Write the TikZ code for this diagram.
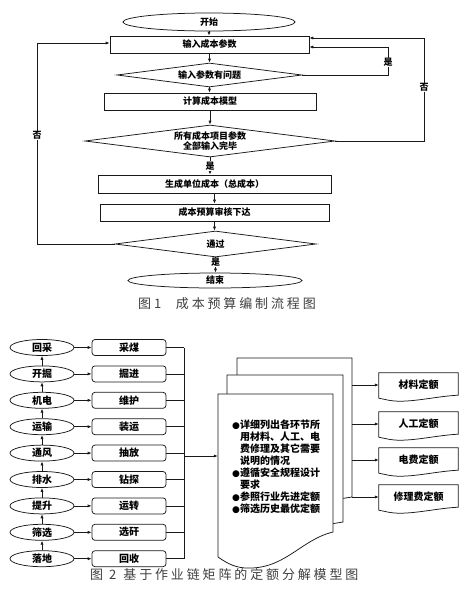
\documentclass[tikz,border=0pt]{standalone}
\usepackage{fontspec}
\setmainfont{Noto Sans CJK SC}
\newfontfamily\dejavu{DejaVu Sans}
\usetikzlibrary{shapes.geometric,arrows.meta}
\newcommand\bul{\makebox[8pt][l]{\dejavu\fontsize{9}{9}\selectfont ●}}
\newcommand\ind{\hspace*{8pt}}
\tikzset{
  ln/.style={line width=0.75pt, draw=black!90},
  arr/.style={ln, -{Latex[length=4pt,width=3.2pt]}},
  fa/.style={font=\bfseries\fontsize{9}{10}\selectfont},
  fb/.style={font=\bfseries\fontsize{10}{11.9}\selectfont},
  procbox/.style={ln, rectangle, inner sep=0pt, fill=white, fa},
  decbox/.style={ln, diamond, inner sep=0pt, aspect=7.5, fill=white, fa, align=center},
  termbox/.style={ln, ellipse, inner sep=0pt, fill=white, fa},
  lbl/.style={fill=white, inner sep=0.6pt, fa},
  ell/.style={ln, ellipse, inner sep=0pt, fill=white, text=black, minimum width=64pt, minimum height=16pt, fb},
  rbox/.style={ln, rectangle, rounded corners=3pt, inner sep=0pt, fill=white, minimum width=74pt, minimum height=16pt, fb},
  mbox/.style={rectangle, inner sep=0pt, minimum width=79pt, minimum height=24pt, fb},
  sheet/.style={ln, fill=white},
  doctext/.style={inner sep=0pt, anchor=north west, align=left, fb},
  captext/.style={font=\fontsize{13}{13}\selectfont\addfontfeatures{LetterSpace=22}, text=black!75, inner sep=0pt, anchor=west},
}
\begin{document}
\begin{tikzpicture}[x=1pt,y=-1pt]
\useasboundingbox (0,0) rectangle (474,598);
\fill[white] (0,0) rectangle (474,598);

% ---------- Figure 1 ----------
\node[termbox, minimum width=172pt, minimum height=18pt] (start) at (209,22) {开始};
\node[procbox, minimum width=199pt, minimum height=17pt] (b1) at (209.5,44.5) {输入成本参数};
\node[decbox, minimum width=185pt, minimum height=24pt] (d1) at (209.5,75) {输入参数有问题};
\node[procbox, minimum width=212pt, minimum height=17pt] (b2) at (210,101.5) {计算成本模型};
\node[decbox, minimum width=250pt, minimum height=32pt] (d2) at (210,141) {所有成本项目参数\\全部输入完毕};
\node[procbox, minimum width=233pt, minimum height=18pt] (b3) at (214.5,184) {生成单位成本（总成本）};
\node[procbox, minimum width=229pt, minimum height=17pt] (b4) at (214.5,212.5) {成本预算审核下达};
\node[decbox, minimum width=201pt, minimum height=26pt] (d3) at (215.5,244) {通过};
\node[termbox, minimum width=174pt, minimum height=15pt] (end) at (215,280.5) {结束};

\draw[arr] (start.south) -- (start.south |- b1.north);
\draw[arr] (b1.south) -- (b1.south |- d1.north);
\draw[arr] (d1.south) -- (d1.south |- b2.north);
\draw[arr] (b2.south) -- (b2.south |- d2.north);
\draw[arr] (d2.south) -- node[lbl]{是} (d2.south |- b3.north);
\draw[arr] (b3.south) -- (b3.south |- b4.north);
\draw[arr] (b4.south) -- (b4.south |- d3.north);
\draw[arr] (d3.south) -- node[lbl, pos=0.35]{是} (d3.south |- end.north);

\coordinate (c1) at (388,47);
\coordinate (c2) at (424,38);
\coordinate (c3) at (37,43);
\draw[arr] (d1.east) -| node[lbl, pos=0.72]{是} (c1) -- ([yshift=-2.5pt]b1.east);
\draw[arr] (d2.east) -| node[lbl, pos=0.76]{否} (c2) -- ([yshift=6.5pt]b1.east);
\draw[arr] (d3.west) -| node[lbl, pos=0.77]{否} (c3) -- ([yshift=1.5pt]b1.west);

\node[captext] (cap1) at (138,304) {图\hspace{3pt}1\hspace{14.5pt}成本预算编制流程图};

% ---------- Figure 2 ----------
\foreach \lt/\rt [count=\k] in {回采/采煤,开掘/掘进,机电/维护,运输/装运,通风/抽放,排水/钻探,提升/运转,筛选/选矸,落地/回收}{
  \node[ell] (e\k) at (42,{347.5+26.4*(\k-1)}) {\lt};
  \node[rbox] (r\k) at (129,{347.5+26.4*(\k-1)}) {\rt};
  \draw[arr] (e\k.east) -- (r\k.west);
}
\foreach \k in {1,...,8}{
  \pgfmathtruncatemacro\kk{\k+1}
  \draw[arr] (e\kk.north) -- (e\k.south);
}
\coordinate (bus) at (184,456);
\foreach \k in {1,...,9}{
  \draw[ln] (r\k.east) -- (r\k.east -| bus);
}
\draw[ln] (r1.east -| bus) -- (r9.east -| bus);

% stacked sheets
\draw[sheet] (237,358) -- (352,358) -- (352,497) .. controls (345,498) and (320,502) .. (290,507) -- (237,507) -- cycle;
\draw[sheet] (227,375) -- (343,375) -- (343,522) .. controls (336,523) and (320,526) .. (300,530) -- (227,530) -- cycle;
\draw[sheet] (218,394) -- (333,394) -- (333,532) .. controls (300,540) and (285,570) .. (245,568) .. controls (232,567) and (224,561) .. (218,557) -- cycle;
\node[inner sep=0pt, minimum width=115pt, minimum height=124pt] (front) at (275.5,456) {};
\node[doctext] (txt) at (232,420) {\bul 详细列出各环节所\\
\ind 用材料、人工、电\\
\ind 费修理及其它需要\\
\ind 说明的情况\\
\bul 遵循安全规程设计\\
\ind 要求\\
\bul 参照行业先进定额\\
\bul 筛选历史最优定额};
\draw[arr] (bus) -- (bus -| front.west);

\coordinate (backR) at (352,358);
\foreach \t/\txt [count=\k] in {373/材料定额,412/人工定额,448/电费定额,485/修理费定额}{
  \node[mbox] (m\k) at (418.5,{\t+12}) {\txt};
  \draw[ln] ([yshift=-1pt]m\k.south west) -- (m\k.north west) -- (m\k.north east) -- ([yshift=2pt]m\k.south east)
     .. controls +(-20,1) and +(18,0) .. ([shift={(-18.5pt,-4pt)}]m\k.south)
     .. controls +(-10,0) and +(6,1) .. ([yshift=-1pt]m\k.south west);
  \draw[arr] (m\k.west -| backR) -- (m\k.west);
}

\node[captext] (cap2) at (90,575) {图\hspace{6pt}2\hspace{7pt}基于作业链矩阵的定额分解模型图};
\end{tikzpicture}
\end{document}
